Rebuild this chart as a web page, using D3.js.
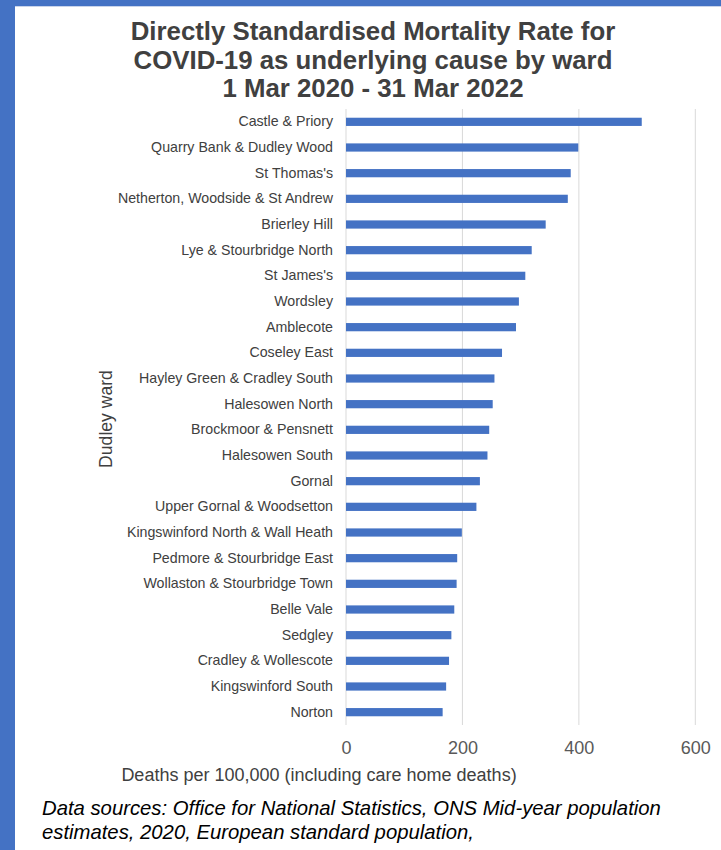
<!DOCTYPE html>
<html>
<head>
<meta charset="utf-8">
<script src="https://cdn.jsdelivr.net/npm/d3@7"></script>
<style>
  html, body { margin: 0; padding: 0; background: #fff; }
  svg { display: block; }
</style>
</head>
<body>
<svg id="chart" width="721" height="850"></svg>
<script>
// Ward names, top to bottom
const wards = [
  "Castle & Priory",
  "Quarry Bank & Dudley Wood",
  "St Thomas's",
  "Netherton, Woodside & St Andrew",
  "Brierley Hill",
  "Lye & Stourbridge North",
  "St James's",
  "Wordsley",
  "Amblecote",
  "Coseley East",
  "Hayley Green & Cradley South",
  "Halesowen North",
  "Brockmoor & Pensnett",
  "Halesowen South",
  "Gornal",
  "Upper Gornal & Woodsetton",
  "Kingswinford North & Wall Heath",
  "Pedmore & Stourbridge East",
  "Wollaston & Stourbridge Town",
  "Belle Vale",
  "Sedgley",
  "Cradley & Wollescote",
  "Kingswinford South",
  "Norton"
];

// Directly standardised mortality rate per 100,000
const rates = [
  508, 399, 386, 381, 343, 319, 308, 297, 292, 268, 255, 252,
  246, 243, 230, 224, 199, 191, 190, 186, 181, 177, 172, 166
];

const xTicks = [0, 200, 400, 600];

const titleLines = [
  "Directly Standardised Mortality Rate for",
  "COVID-19 as underlying cause by ward",
  "1 Mar 2020 - 31 Mar 2022"
];
const xTitle = "Deaths per 100,000 (including care home deaths)";
const yTitle = "Dudley ward";
const sourceLines = [
  "Data sources: Office for National Statistics, ONS Mid-year population",
  "estimates, 2020, European standard population,"
];

const svg = d3.select("#chart");
const W = 721, H = 850;
const font = "'Liberation Sans', Arial, Helvetica, sans-serif";
const frameBlue = "#4472c4";

// Blue frame along the top and left edges
svg.append("rect").attr("x", 0).attr("y", 0).attr("width", W).attr("height", H).attr("fill", "#fff");
svg.append("rect").attr("x", 0).attr("y", 0).attr("width", W).attr("height", 6).attr("fill", frameBlue);
svg.append("rect").attr("x", 0).attr("y", 0).attr("width", 15).attr("height", H).attr("fill", frameBlue);
svg.append("line").attr("x1", 15).attr("x2", W).attr("y1", 6.5).attr("y2", 6.5)
  .attr("stroke", "#c9d4ea").attr("stroke-width", 1);

// Title
svg.append("g").selectAll("text").data(titleLines).join("text")
  .attr("x", 373).attr("y", (d, i) => 40 + i * 28.5)
  .attr("text-anchor", "middle")
  .attr("font-family", font).attr("font-weight", "bold").attr("font-size", 25.8)
  .attr("fill", "#404040")
  .text(d => d);

// Plot area
const plot = { left: 346, right: 695.3, top: 109, bottom: 725 };

const x = d3.scaleLinear().domain([0, 600]).range([plot.left, plot.right]);
const y = d3.scaleBand().domain(wards).range([plot.top, plot.bottom]).paddingInner(0.68).paddingOuter(0.34);

// Vertical gridlines
svg.append("g").selectAll("line").data(xTicks).join("line")
  .attr("x1", d => x(d)).attr("x2", d => x(d))
  .attr("y1", plot.top).attr("y2", plot.bottom)
  .attr("stroke", "#d9d9d9").attr("stroke-width", 1);

// Bars
svg.append("g").selectAll("rect").data(wards).join("rect")
  .attr("x", x(0))
  .attr("y", d => y(d))
  .attr("width", (d, i) => x(rates[i]) - x(0))
  .attr("height", y.bandwidth())
  .attr("fill", frameBlue);

// Category axis
const yAxis = d3.axisLeft(y).tickSize(0).tickPadding(13);
const gy = svg.append("g").attr("transform", `translate(${plot.left},0)`).call(yAxis);
gy.select(".domain").remove();
gy.selectAll("text")
  .attr("font-family", font).attr("font-size", 14.2).attr("fill", "#404040");

// Value axis
const xAxis = d3.axisBottom(x).tickValues(xTicks).tickSize(0).tickPadding(16).tickFormat(d3.format("d"));
const gx = svg.append("g").attr("transform", `translate(0,${plot.bottom})`).call(xAxis);
gx.select(".domain").remove();
gx.selectAll("text")
  .attr("font-family", font).attr("font-size", 18).attr("fill", "#595959");

// Axis titles
svg.append("text")
  .attr("x", 319).attr("y", 781)
  .attr("text-anchor", "middle")
  .attr("font-family", font).attr("font-size", 18).attr("fill", "#404040")
  .text(xTitle);

svg.append("text")
  .attr("transform", "translate(112,419) rotate(-90)")
  .attr("text-anchor", "middle")
  .attr("font-family", font).attr("font-size", 17.6).attr("fill", "#404040")
  .text(yTitle);

// Source note
svg.append("g").selectAll("text").data(sourceLines).join("text")
  .attr("x", 42).attr("y", (d, i) => 815 + i * 24)
  .attr("font-family", font).attr("font-style", "italic").attr("font-size", 20.3)
  .attr("fill", "#000")
  .text(d => d);
</script>
</body>
</html>
